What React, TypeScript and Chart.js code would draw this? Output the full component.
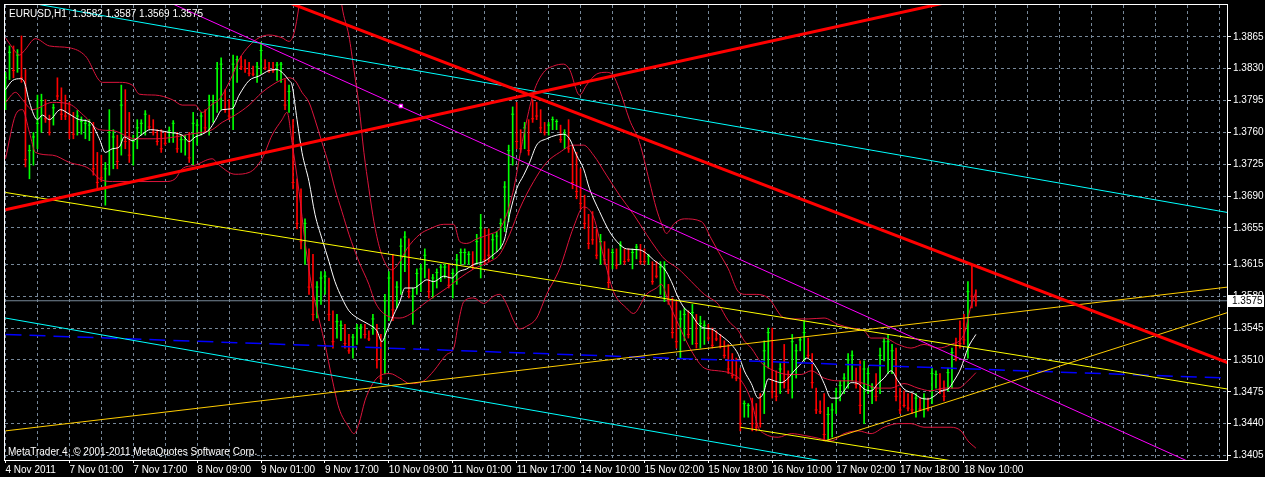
import { useEffect, useRef } from 'react'
import { Chart, registerables } from 'chart.js'

Chart.register(...registerables)

// EURUSD H1, 4 Nov - 18 Nov 2011, one entry per hourly bar
const opens = [
  1.3790, 1.3820, 1.3848, 1.3828, 1.3845, 1.3820, 1.3725, 1.3738, 1.3752, 1.3768,
  1.3795, 1.3775, 1.3770, 1.3815, 1.3800, 1.3795, 1.3785, 1.3775, 1.3760, 1.3762,
  1.3758, 1.3756, 1.3768, 1.3725, 1.3720, 1.3690, 1.3720, 1.3735, 1.3755, 1.3740,
  1.3795, 1.3770, 1.3730, 1.3748, 1.3760, 1.3765, 1.3777, 1.3770, 1.3760, 1.3755,
  1.3758, 1.3751, 1.3755, 1.3757, 1.3742, 1.3740, 1.3752, 1.3732, 1.3750, 1.3760,
  1.3778, 1.3765, 1.3780, 1.3790, 1.3795, 1.3805, 1.3792, 1.3770, 1.3820, 1.3842,
  1.3838, 1.3835, 1.3832, 1.3818, 1.3830, 1.3838, 1.3835, 1.3834, 1.3820, 1.3818,
  1.3815, 1.3785, 1.3770, 1.3705, 1.3670, 1.3625, 1.3625, 1.3600, 1.3560, 1.3580,
  1.3590, 1.3598, 1.3558, 1.3535, 1.3535, 1.3545, 1.3535, 1.3515, 1.3532, 1.3537,
  1.3546, 1.3540, 1.3540, 1.3547, 1.3520, 1.3500, 1.3565, 1.3600, 1.3570, 1.3590,
  1.3615, 1.3640, 1.3555, 1.3585, 1.3590, 1.3605, 1.3608, 1.3582, 1.3592, 1.3598,
  1.3602, 1.3612, 1.3582, 1.3598, 1.3618, 1.3618, 1.3618, 1.3626, 1.3618, 1.3610,
  1.3650, 1.3645, 1.3625, 1.3632, 1.3636, 1.3655, 1.3680, 1.3730, 1.3785, 1.3760,
  1.3745, 1.3768, 1.3793, 1.3790, 1.3782, 1.3768, 1.3760, 1.3765, 1.3765, 1.3766,
  1.3745, 1.3770, 1.3742, 1.3720, 1.3705, 1.3685, 1.3662, 1.3665, 1.3648, 1.3620,
  1.3638, 1.3625, 1.3612, 1.3628, 1.3618, 1.3630, 1.3630, 1.3614, 1.3624, 1.3634,
  1.3628, 1.3617, 1.3616, 1.3615, 1.3588, 1.3580, 1.3590, 1.3575, 1.3550, 1.3520,
  1.3535, 1.3560, 1.3532, 1.3556, 1.3528, 1.3530, 1.3546, 1.3540, 1.3540, 1.3535,
  1.3528, 1.3522, 1.3505, 1.3505, 1.3495, 1.3450, 1.3449, 1.3462, 1.3458, 1.3465,
  1.3455, 1.3510, 1.3540, 1.3495, 1.3476, 1.3510, 1.3495, 1.3475, 1.3495, 1.3522,
  1.3515, 1.3532, 1.3512, 1.3478, 1.3463, 1.3465, 1.3425, 1.3430, 1.3455, 1.3468,
  1.3476, 1.3485, 1.3492, 1.3498, 1.3500, 1.3450, 1.3476, 1.3464, 1.3492, 1.3478,
  1.3512, 1.3500, 1.3500, 1.3518, 1.3476, 1.3472, 1.3470, 1.3468, 1.3450, 1.3465,
  1.3450, 1.3465, 1.3465, 1.3482, 1.3492, 1.3484, 1.3478, 1.3485, 1.3530, 1.3550,
  1.3555, 1.3520, 1.3605, 1.3582,
]
const highs = [
  1.3826, 1.3855, 1.3855, 1.3851, 1.3866, 1.3829, 1.3746, 1.3760, 1.3801, 1.3802,
  1.3796, 1.3779, 1.3791, 1.3820, 1.3809, 1.3801, 1.3793, 1.3782, 1.3784, 1.3777,
  1.3774, 1.3774, 1.3771, 1.3738, 1.3735, 1.3727, 1.3785, 1.3763, 1.3757, 1.3812,
  1.3807, 1.3782, 1.3757, 1.3774, 1.3774, 1.3784, 1.3779, 1.3774, 1.3763, 1.3763,
  1.3760, 1.3766, 1.3773, 1.3760, 1.3757, 1.3757, 1.3760, 1.3782, 1.3774, 1.3782,
  1.3785, 1.3801, 1.3801, 1.3837, 1.3842, 1.3807, 1.3796, 1.3845, 1.3844, 1.3844,
  1.3840, 1.3837, 1.3833, 1.3837, 1.3859, 1.3840, 1.3837, 1.3837, 1.3837, 1.3837,
  1.3818, 1.3812, 1.3774, 1.3709, 1.3698, 1.3665, 1.3632, 1.3626, 1.3596, 1.3607,
  1.3607, 1.3600, 1.3564, 1.3560, 1.3553, 1.3549, 1.3538, 1.3538, 1.3549, 1.3549,
  1.3549, 1.3542, 1.3560, 1.3549, 1.3538, 1.3582, 1.3607, 1.3626, 1.3596, 1.3643,
  1.3651, 1.3643, 1.3589, 1.3610, 1.3615, 1.3632, 1.3610, 1.3604, 1.3610, 1.3615,
  1.3615, 1.3615, 1.3610, 1.3626, 1.3632, 1.3632, 1.3629, 1.3629, 1.3648, 1.3670,
  1.3654, 1.3654, 1.3648, 1.3651, 1.3665, 1.3706, 1.3746, 1.3788, 1.3793, 1.3763,
  1.3771, 1.3774, 1.3796, 1.3793, 1.3785, 1.3771, 1.3771, 1.3777, 1.3774, 1.3768,
  1.3763, 1.3774, 1.3746, 1.3738, 1.3720, 1.3691, 1.3670, 1.3673, 1.3654, 1.3648,
  1.3640, 1.3632, 1.3632, 1.3632, 1.3640, 1.3632, 1.3632, 1.3632, 1.3637, 1.3637,
  1.3632, 1.3626, 1.3618, 1.3618, 1.3618, 1.3618, 1.3593, 1.3578, 1.3574, 1.3564,
  1.3567, 1.3564, 1.3571, 1.3560, 1.3558, 1.3553, 1.3549, 1.3545, 1.3542, 1.3538,
  1.3531, 1.3527, 1.3517, 1.3512, 1.3501, 1.3465, 1.3462, 1.3468, 1.3462, 1.3473,
  1.3531, 1.3545, 1.3545, 1.3498, 1.3506, 1.3527, 1.3498, 1.3538, 1.3527, 1.3534,
  1.3553, 1.3534, 1.3517, 1.3479, 1.3465, 1.3473, 1.3458, 1.3462, 1.3479, 1.3487,
  1.3495, 1.3517, 1.3520, 1.3501, 1.3509, 1.3509, 1.3501, 1.3484, 1.3495, 1.3523,
  1.3534, 1.3538, 1.3527, 1.3523, 1.3479, 1.3476, 1.3473, 1.3473, 1.3473, 1.3468,
  1.3473, 1.3468, 1.3501, 1.3498, 1.3495, 1.3487, 1.3501, 1.3523, 1.3534, 1.3553,
  1.3560, 1.3596, 1.3615, 1.3587,
]
const lows = [
  1.3785, 1.3818, 1.3820, 1.3826, 1.3815, 1.3722, 1.3709, 1.3724, 1.3742, 1.3760,
  1.3771, 1.3757, 1.3768, 1.3796, 1.3774, 1.3774, 1.3753, 1.3753, 1.3757, 1.3758,
  1.3753, 1.3751, 1.3713, 1.3698, 1.3706, 1.3680, 1.3713, 1.3720, 1.3720, 1.3735,
  1.3742, 1.3727, 1.3724, 1.3742, 1.3757, 1.3757, 1.3763, 1.3757, 1.3746, 1.3738,
  1.3746, 1.3749, 1.3749, 1.3738, 1.3738, 1.3735, 1.3727, 1.3724, 1.3746, 1.3757,
  1.3760, 1.3757, 1.3771, 1.3782, 1.3785, 1.3782, 1.3774, 1.3763, 1.3815, 1.3829,
  1.3826, 1.3822, 1.3822, 1.3815, 1.3824, 1.3829, 1.3826, 1.3826, 1.3817, 1.3815,
  1.3785, 1.3782, 1.3698, 1.3654, 1.3632, 1.3615, 1.3582, 1.3553, 1.3556, 1.3571,
  1.3582, 1.3553, 1.3523, 1.3534, 1.3531, 1.3523, 1.3517, 1.3512, 1.3527, 1.3534,
  1.3534, 1.3531, 1.3538, 1.3501, 1.3484, 1.3495, 1.3553, 1.3553, 1.3567, 1.3582,
  1.3607, 1.3578, 1.3549, 1.3582, 1.3585, 1.3600, 1.3578, 1.3578, 1.3589, 1.3596,
  1.3600, 1.3589, 1.3578, 1.3593, 1.3615, 1.3615, 1.3615, 1.3610, 1.3615, 1.3600,
  1.3615, 1.3618, 1.3621, 1.3629, 1.3632, 1.3651, 1.3662, 1.3724, 1.3742, 1.3738,
  1.3742, 1.3735, 1.3771, 1.3774, 1.3760, 1.3757, 1.3757, 1.3763, 1.3763, 1.3749,
  1.3742, 1.3738, 1.3698, 1.3687, 1.3676, 1.3654, 1.3632, 1.3637, 1.3621, 1.3615,
  1.3615, 1.3589, 1.3610, 1.3610, 1.3615, 1.3615, 1.3618, 1.3610, 1.3621, 1.3615,
  1.3615, 1.3615, 1.3593, 1.3600, 1.3582, 1.3574, 1.3571, 1.3534, 1.3523, 1.3512,
  1.3531, 1.3534, 1.3527, 1.3523, 1.3523, 1.3527, 1.3531, 1.3523, 1.3531, 1.3523,
  1.3512, 1.3495, 1.3490, 1.3487, 1.3432, 1.3447, 1.3447, 1.3432, 1.3432, 1.3436,
  1.3451, 1.3501, 1.3468, 1.3465, 1.3473, 1.3479, 1.3473, 1.3468, 1.3490, 1.3520,
  1.3509, 1.3512, 1.3479, 1.3451, 1.3451, 1.3421, 1.3421, 1.3425, 1.3451, 1.3465,
  1.3473, 1.3479, 1.3487, 1.3479, 1.3451, 1.3440, 1.3473, 1.3462, 1.3465, 1.3473,
  1.3509, 1.3495, 1.3495, 1.3465, 1.3451, 1.3458, 1.3454, 1.3451, 1.3447, 1.3454,
  1.3447, 1.3454, 1.3462, 1.3479, 1.3473, 1.3465, 1.3476, 1.3479, 1.3509, 1.3523,
  1.3527, 1.3512, 1.3567, 1.3569,
]
const closes = [
  1.3820, 1.3848, 1.3828, 1.3845, 1.3820, 1.3730, 1.3740, 1.3755, 1.3770, 1.3795,
  1.3775, 1.3760, 1.3787, 1.3800, 1.3780, 1.3778, 1.3760, 1.3758, 1.3778, 1.3772,
  1.3770, 1.3768, 1.3720, 1.3705, 1.3710, 1.3720, 1.3760, 1.3755, 1.3728, 1.3790,
  1.3750, 1.3735, 1.3750, 1.3765, 1.3770, 1.3780, 1.3766, 1.3760, 1.3750, 1.3742,
  1.3748, 1.3762, 1.3770, 1.3742, 1.3752, 1.3752, 1.3732, 1.3770, 1.3768, 1.3778,
  1.3765, 1.3795, 1.3795, 1.3830, 1.3835, 1.3785, 1.3778, 1.3835, 1.3840, 1.3832,
  1.3830, 1.3825, 1.3824, 1.3832, 1.3850, 1.3831, 1.3828, 1.3828, 1.3834, 1.3835,
  1.3790, 1.3805, 1.3705, 1.3660, 1.3640, 1.3660, 1.3590, 1.3560, 1.3590, 1.3600,
  1.3602, 1.3560, 1.3530, 1.3552, 1.3548, 1.3528, 1.3520, 1.3535, 1.3545, 1.3546,
  1.3538, 1.3533, 1.3555, 1.3510, 1.3490, 1.3575, 1.3600, 1.3565, 1.3590, 1.3635,
  1.3645, 1.3585, 1.3580, 1.3605, 1.3610, 1.3625, 1.3585, 1.3600, 1.3606, 1.3612,
  1.3612, 1.3592, 1.3605, 1.3620, 1.3628, 1.3628, 1.3626, 1.3614, 1.3640, 1.3655,
  1.3620, 1.3625, 1.3642, 1.3646, 1.3660, 1.3700, 1.3740, 1.3780, 1.3750, 1.3742,
  1.3765, 1.3740, 1.3775, 1.3778, 1.3765, 1.3760, 1.3768, 1.3774, 1.3772, 1.3752,
  1.3758, 1.3742, 1.3705, 1.3695, 1.3682, 1.3660, 1.3638, 1.3642, 1.3625, 1.3640,
  1.3620, 1.3595, 1.3628, 1.3614, 1.3636, 1.3618, 1.3620, 1.3628, 1.3634, 1.3618,
  1.3618, 1.3624, 1.3596, 1.3602, 1.3612, 1.3610, 1.3575, 1.3540, 1.3530, 1.3555,
  1.3560, 1.3538, 1.3562, 1.3528, 1.3550, 1.3548, 1.3534, 1.3526, 1.3533, 1.3525,
  1.3515, 1.3500, 1.3493, 1.3490, 1.3440, 1.3462, 1.3460, 1.3440, 1.3436, 1.3440,
  1.3520, 1.3540, 1.3475, 1.3470, 1.3500, 1.3485, 1.3477, 1.3530, 1.3520, 1.3532,
  1.3540, 1.3515, 1.3485, 1.3455, 1.3453, 1.3428, 1.3450, 1.3455, 1.3475, 1.3482,
  1.3490, 1.3510, 1.3515, 1.3483, 1.3460, 1.3500, 1.3495, 1.3480, 1.3470, 1.3515,
  1.3530, 1.3530, 1.3520, 1.3470, 1.3455, 1.3460, 1.3457, 1.3455, 1.3468, 1.3456,
  1.3468, 1.3456, 1.3495, 1.3494, 1.3477, 1.3470, 1.3496, 1.3518, 1.3512, 1.3528,
  1.3532, 1.3585, 1.3580, 1.3575,
]

// moving average (white) and Bollinger lines (crimson): [bar index, price]
const maLine = [
  [0, 1.3807], [1.75, 1.3817], [3.75, 1.3819], [4.75, 1.3815], [6, 1.3793], [8, 1.3774],
  [9.25, 1.3779], [11, 1.3774], [13.75, 1.3785], [16, 1.3780], [18.5, 1.3774], [21.25, 1.3771],
  [23.5, 1.3753], [25, 1.3738], [26.75, 1.3742], [28.5, 1.3744], [29.75, 1.3755], [31.75, 1.3751],
  [34.25, 1.3758], [36.25, 1.3763], [38.5, 1.3762], [41, 1.3760], [44.25, 1.3757], [46, 1.3750],
  [47.5, 1.3755], [49.25, 1.3758], [51, 1.3763], [52.5, 1.3773], [54.25, 1.3785], [56.75, 1.3786],
  [58.5, 1.3801], [61, 1.3817], [63.5, 1.3822], [66, 1.3828], [68, 1.3829], [69.25, 1.3826],
  [71, 1.3817], [71.75, 1.3812], [73, 1.3774], [74.25, 1.3738], [76, 1.3706], [77.5, 1.3670],
  [79.25, 1.3643], [81, 1.3618], [82.5, 1.3596], [84.25, 1.3578], [86, 1.3564], [88.5, 1.3555],
  [91, 1.3549], [93, 1.3542], [94.25, 1.3530], [95.5, 1.3542], [97.25, 1.3560], [98.75, 1.3574],
  [100, 1.3589], [102.25, 1.3589], [103.75, 1.3593], [105.5, 1.3598], [107.25, 1.3596], [109.75, 1.3602],
  [111.75, 1.3600], [113.5, 1.3607], [115.5, 1.3610], [117.25, 1.3615], [119.75, 1.3618], [122.25, 1.3626],
  [123.75, 1.3632], [125, 1.3643], [126.25, 1.3670], [128, 1.3698], [129.75, 1.3713], [131.25, 1.3727],
  [133, 1.3746], [135.5, 1.3753], [138, 1.3757], [139.75, 1.3758], [141.25, 1.3753], [143, 1.3735],
  [144.75, 1.3720], [146.25, 1.3698], [148.75, 1.3673], [151.25, 1.3651], [153.75, 1.3637], [155.5, 1.3632],
  [158.75, 1.3631], [160.5, 1.3627], [162.25, 1.3620], [165, 1.3610], [166.75, 1.3596], [168.5, 1.3578],
  [170, 1.3567], [171.75, 1.3560], [173.5, 1.3549], [175, 1.3545], [176.75, 1.3544], [178.5, 1.3539],
  [180, 1.3534], [181.75, 1.3527], [183.5, 1.3516], [185, 1.3498], [186.75, 1.3484], [188.5, 1.3468],
  [189.75, 1.3473], [191, 1.3489], [192.5, 1.3487], [194.25, 1.3485], [196, 1.3490], [197.5, 1.3498],
  [199.25, 1.3506], [200.5, 1.3512], [201.75, 1.3509], [203.5, 1.3498], [205, 1.3484], [206.75, 1.3468],
  [208.5, 1.3468], [210, 1.3476], [211.75, 1.3485], [213.5, 1.3484], [215, 1.3478], [216.75, 1.3476],
  [218.5, 1.3484], [220, 1.3490], [221.75, 1.3498], [223.5, 1.3487], [225, 1.3478], [227.5, 1.3473],
  [229.25, 1.3468], [231, 1.3467], [232.5, 1.3470], [234.25, 1.3476], [236, 1.3478], [237.5, 1.3487],
  [239.25, 1.3501], [241, 1.3523], [243, 1.3538],
]
const bandUpper = [
  [0, 1.3864], [1.75, 1.3853], [3.5, 1.3845], [4.75, 1.3850], [7.5, 1.3863], [11, 1.3855],
  [16, 1.3853], [20, 1.3844], [24.25, 1.3815], [28.5, 1.3815], [31.75, 1.3812], [33.5, 1.3802],
  [37.5, 1.3801], [41.75, 1.3796], [44.25, 1.3790], [47.5, 1.3790], [49.25, 1.3782], [51.75, 1.3791],
  [53.5, 1.3796], [56.75, 1.3822], [58.5, 1.3840], [61, 1.3855], [63.5, 1.3864], [66, 1.3867],
  [69.25, 1.3864], [71, 1.3860], [72.25, 1.3869], [73.5, 1.3899], [75.5, 1.3968], [79.25, 1.4022],
  [82.5, 1.3968], [84.25, 1.3899], [86, 1.3866], [87.25, 1.3829], [88.5, 1.3790], [89.75, 1.3738],
  [91, 1.3698], [92.25, 1.3662], [93.75, 1.3632], [95.5, 1.3613], [96.75, 1.3609], [98.75, 1.3618],
  [100.5, 1.3632], [103.75, 1.3648], [106.25, 1.3654], [109.75, 1.3659], [112.25, 1.3659], [113.75, 1.3640],
  [115.5, 1.3638], [118, 1.3643], [121.25, 1.3648], [123.75, 1.3654], [125.5, 1.3670], [127.25, 1.3698],
  [129.75, 1.3757], [132.25, 1.3804], [134.75, 1.3826], [137.25, 1.3833], [139.75, 1.3835], [141.25, 1.3829],
  [143.75, 1.3801], [145.5, 1.3812], [148, 1.3824], [150.5, 1.3826], [152.25, 1.3822], [153.75, 1.3807],
  [156.25, 1.3774], [158.75, 1.3749], [161.25, 1.3706], [163, 1.3676], [164.25, 1.3660], [165.5, 1.3649],
  [167.5, 1.3660], [170, 1.3665], [174.25, 1.3662], [176.75, 1.3643], [178.5, 1.3629], [181, 1.3610],
  [183.5, 1.3585], [185.5, 1.3582], [188, 1.3582], [191, 1.3578], [195, 1.3556], [197.5, 1.3555],
  [201, 1.3555], [205, 1.3556], [208.5, 1.3549], [211.75, 1.3545], [215, 1.3542], [216.75, 1.3534],
  [220, 1.3534], [223.5, 1.3527], [226.75, 1.3523], [230, 1.3527], [233.5, 1.3523], [236.75, 1.3527],
  [240, 1.3538], [241.75, 1.3569], [243, 1.3585],
]
const bandMiddle = [
  [0, 1.3793], [2.5, 1.3804], [4.25, 1.3796], [6.75, 1.3785], [11.75, 1.3793], [16, 1.3791],
  [20, 1.3777], [23.5, 1.3763], [26.75, 1.3762], [32.5, 1.3753], [37.5, 1.3753], [42.5, 1.3755],
  [46, 1.3758], [49.25, 1.3760], [51.75, 1.3763], [54.25, 1.3771], [57.5, 1.3779], [61, 1.3790],
  [64.25, 1.3804], [66.75, 1.3812], [69.25, 1.3818], [71, 1.3820], [72.5, 1.3817], [74.25, 1.3804],
  [76, 1.3793], [77.5, 1.3774], [79.25, 1.3749], [81, 1.3724], [82.5, 1.3698], [84.25, 1.3673],
  [86, 1.3648], [88.5, 1.3618], [91, 1.3593], [92.5, 1.3574], [95, 1.3560], [98.75, 1.3556],
  [101.25, 1.3560], [105.5, 1.3574], [110.5, 1.3589], [113.75, 1.3600], [117.25, 1.3610], [121.25, 1.3618],
  [123.75, 1.3626], [126.25, 1.3648], [128.75, 1.3676], [132.25, 1.3706], [135.5, 1.3727], [138.75, 1.3738],
  [142.25, 1.3746], [144.75, 1.3746], [147.25, 1.3735], [150.5, 1.3713], [153.75, 1.3691], [157.25, 1.3670],
  [160.5, 1.3648], [163, 1.3632], [165, 1.3621], [168.5, 1.3610], [171.75, 1.3596], [175, 1.3582],
  [178.5, 1.3571], [181, 1.3553], [183.5, 1.3542], [185, 1.3531], [186.75, 1.3523], [189.25, 1.3507],
  [192.5, 1.3498], [196, 1.3494], [199.25, 1.3494], [201.75, 1.3498], [205, 1.3490], [208.5, 1.3487],
  [211.75, 1.3487], [215, 1.3484], [218.5, 1.3479], [221.75, 1.3479], [225, 1.3484], [228.5, 1.3479],
  [231.75, 1.3476], [235, 1.3479], [238.5, 1.3479], [241, 1.3487], [243, 1.3496],
]
const bandLower = [
  [0, 1.3731], [2.5, 1.3779], [4.25, 1.3785], [6, 1.3760], [7.5, 1.3738], [11.75, 1.3735],
  [16, 1.3727], [21, 1.3720], [23.5, 1.3709], [26.75, 1.3706], [32.5, 1.3706], [40, 1.3706],
  [42.5, 1.3709], [44.25, 1.3720], [47.5, 1.3724], [51.75, 1.3731], [53.5, 1.3724], [57.5, 1.3714],
  [61, 1.3716], [64.25, 1.3731], [66.75, 1.3757], [69.25, 1.3774], [70.5, 1.3782], [71.75, 1.3749],
  [73.5, 1.3695], [75, 1.3640], [76.25, 1.3602], [77.5, 1.3574], [80, 1.3527], [81.75, 1.3490],
  [83.5, 1.3457], [86, 1.3436], [87.25, 1.3429], [88.5, 1.3440], [90, 1.3465], [91, 1.3476],
  [93, 1.3490], [96.25, 1.3495], [98.75, 1.3490], [101.25, 1.3484], [104.75, 1.3487], [107.25, 1.3498],
  [110.5, 1.3516], [112.25, 1.3523], [113.5, 1.3553], [114.75, 1.3574], [117.25, 1.3578], [119.75, 1.3572],
  [122.25, 1.3580], [123.75, 1.3582], [125.5, 1.3571], [127.25, 1.3553], [128.75, 1.3544], [130.5, 1.3547],
  [133, 1.3556], [135.5, 1.3582], [138.75, 1.3610], [142.25, 1.3656], [144.75, 1.3678], [147.25, 1.3667],
  [149.75, 1.3624], [152.25, 1.3585], [155.5, 1.3567], [157.25, 1.3561], [160.5, 1.3582], [163, 1.3589],
  [164.25, 1.3593], [166, 1.3574], [168.5, 1.3549], [171.75, 1.3520], [175, 1.3501], [178.5, 1.3498],
  [181.75, 1.3495], [184.25, 1.3487], [186.75, 1.3465], [188.5, 1.3436], [190, 1.3429], [193.5, 1.3425],
  [196.75, 1.3429], [200, 1.3427], [203.5, 1.3424], [206.75, 1.3421], [210, 1.3429], [213.5, 1.3432],
  [216.75, 1.3429], [220, 1.3436], [223.5, 1.3440], [226.75, 1.3440], [230, 1.3436], [233.5, 1.3436],
  [236.75, 1.3436], [239.25, 1.3432], [241, 1.3421], [243, 1.3413],
]

// hand-drawn objects: [bar index, price] end points
const redFallLine = [[60, 1.3921], [306, 1.3507]]
const redRiseLine = [[0, 1.3675], [240, 1.3907]]
const cyanUpperLine = [[0, 1.3907], [306, 1.3672]]
const cyanLowerLine = [[0, 1.3556], [306, 1.3321]]
const magentaLine = [[0, 1.3984], [306, 1.3379]]
const magentaAnchor = [[99, 1.3789]]
const yellowFallLine = [[0, 1.3694], [306, 1.3478]]
const yellowLowLine = [[184, 1.3436], [250, 1.3390]]
const goldRiseLine = [[0, 1.3432], [306, 1.3590]]
const goldRayLine = [[205.25, 1.3421], [306, 1.3562]]
const blueDashLine = [[0, 1.3538], [306, 1.3490]]

const priceTicks = [
  1.3405, 1.3440, 1.3475, 1.3510, 1.3545, 1.3580, 1.3615,
  1.3655, 1.3690, 1.3725, 1.3760, 1.3795, 1.3830, 1.3865,
]
const timeLabels = [
  '4 Nov 2011', '7 Nov 01:00', '7 Nov 17:00', '8 Nov 09:00', '9 Nov 01:00', '9 Nov 17:00',
  '10 Nov 09:00', '11 Nov 01:00', '11 Nov 17:00', '14 Nov 10:00', '15 Nov 02:00', '15 Nov 18:00',
  '16 Nov 10:00', '17 Nov 02:00', '17 Nov 18:00', '18 Nov 10:00',
]
const BARS_PER_LABEL = 16
const BARS_PER_GRID = 8
const SLOTS = 306

const SYMBOL = 'EURUSD,H1'
const COPYRIGHT = 'MetaTrader 4, \u00a9 2001-2011 MetaQuotes Software Corp.'

const FONT_FAMILY = '"Liberation Sans", Arial, sans-serif'
const GRID = '#778899'
const UP = '#00ff00'
const DOWN = '#ff0000'
const BAND = '#dc143c'

const pts = (pairs: number[][]) => pairs.map(([x, y]) => ({ x, y }))

const lineSet = (data: number[][], color: string, width: number, order: number, extra: object = {}) => ({
  type: 'line',
  data: pts(data),
  borderColor: color,
  backgroundColor: color,
  borderWidth: width,
  pointRadius: 0,
  fill: false,
  tension: 0,
  order,
  ...extra,
})

const labelAt = (v: number) => {
  if (v % BARS_PER_LABEL !== 0) return ''
  return timeLabels[v / BARS_PER_LABEL] || ''
}

const overlay = {
  id: 'mtOverlay',
  afterDraw(chart: any) {
    const { ctx, chartArea: a, scales } = chart
    const last = closes.length - 1
    ctx.save()
    ctx.strokeStyle = '#ffffff'
    ctx.lineWidth = 1
    ctx.strokeRect(a.left - 0.5, a.top - 0.5, a.right - a.left + 1, a.bottom - a.top + 1)

    ctx.font = `10px ${FONT_FAMILY}`
    ctx.fillStyle = '#ffffff'
    ctx.textBaseline = 'alphabetic'
    const head = `${SYMBOL}  ${opens[last].toFixed(4)} ${highs[last].toFixed(4)} ${lows[last].toFixed(4)} ${closes[last].toFixed(4)}`
    ctx.fillText(head, a.left + 4, a.top + 12)
    ctx.fillText(COPYRIGHT, a.left + 3, a.bottom - 5)

    // bid tag on the price axis
    const y = Math.round(scales.y.getPixelForValue(closes[last]))
    ctx.fillStyle = '#ffffff'
    ctx.fillRect(a.right + 1, y - 6, 36, 12)
    ctx.fillStyle = '#000000'
    ctx.textBaseline = 'middle'
    ctx.fillText(closes[last].toFixed(4), a.right + 5, y + 0.5)
    ctx.restore()
  },
}

function PriceChart() {
  const canvasRef = useRef<HTMLCanvasElement>(null)
  const chartRef = useRef<Chart | null>(null)

  useEffect(() => {
    if (!canvasRef.current) return
    document.body.style.margin = '0'
    document.body.style.background = '#000'

    if (chartRef.current) chartRef.current.destroy()

    const last = closes.length - 1
    const barColors = closes.map((c, i) => (c >= opens[i] ? UP : DOWN))

    const chart = new Chart(canvasRef.current, {
      type: 'line',
      data: {
        datasets: [
          lineSet([[0, closes[last]], [SLOTS, closes[last]]], GRID, 1, 20),
          {
            type: 'bar',
            data: highs.map((h, i) => ({ x: i, y: [lows[i], h] })),
            backgroundColor: barColors,
            borderWidth: 0,
            barThickness: 1,
            grouped: false,
            order: 15,
          },
          {
            type: 'scatter',
            data: closes.map((c, i) => ({ x: i, y: c })),
            pointStyle: 'line',
            pointRadius: 1.5,
            borderWidth: 1,
            borderColor: barColors,
            showLine: false,
            order: 14,
          },
          lineSet(bandUpper, BAND, 1, 12, { cubicInterpolationMode: 'monotone' }),
          lineSet(bandMiddle, BAND, 1, 12, { cubicInterpolationMode: 'monotone' }),
          lineSet(bandLower, BAND, 1, 12, { cubicInterpolationMode: 'monotone' }),
          lineSet(maLine, '#ffffff', 1, 11, { cubicInterpolationMode: 'monotone' }),
          lineSet(blueDashLine, '#0000ff', 1.5, 8, { borderDash: [16, 8] }),
          lineSet(cyanUpperLine, '#00ffff', 1, 7),
          lineSet(cyanLowerLine, '#00ffff', 1, 7),
          lineSet(yellowFallLine, '#ffff00', 1, 6),
          lineSet(yellowLowLine, '#ffff00', 1, 6),
          lineSet(goldRiseLine, '#ffcc00', 1, 6),
          lineSet(goldRayLine, '#ffcc00', 1, 6),
          lineSet(magentaLine, '#ff00ff', 1, 5),
          lineSet(redFallLine, '#ff0000', 3, 4),
          lineSet(redRiseLine, '#ff0000', 3, 4),
          {
            type: 'scatter',
            data: pts(magentaAnchor),
            pointStyle: 'rect',
            pointRadius: 2.5,
            backgroundColor: '#ffffff',
            borderColor: '#ff00ff',
            borderWidth: 1,
            order: 1,
          },
        ],
      },
      options: {
        animation: false,
        responsive: false,
        devicePixelRatio: 1,
        events: [],
        layout: { padding: { left: 3, top: 2, right: 0, bottom: 0 } },
        plugins: {
          legend: { display: false },
          tooltip: { enabled: false },
          title: { display: false },
        },
        scales: {
          x: {
            type: 'linear',
            offset: false,
            min: -0.125,
            max: SLOTS - 0.125,
            afterBuildTicks: (s: any) => {
              const t = []
              for (let v = 0; v < SLOTS; v += BARS_PER_GRID) t.push({ value: v })
              s.ticks = t
            },
            afterFit: (s: any) => {
              s.height = 17
              s.paddingLeft = 0
              s.paddingRight = 0
            },
            ticks: {
              color: '#ffffff',
              font: { family: FONT_FAMILY, size: 10 },
              autoSkip: false,
              maxRotation: 0,
              minRotation: 0,
              align: 'start',
              padding: 1,
              callback: (v: any) => labelAt(Number(v)),
            },
            grid: {
              offset: false,
              color: GRID,
              lineWidth: 1,
              tickLength: 3,
              tickBorderDash: [],
              tickColor: (c: any) => (c.tick && labelAt(c.tick.value) ? '#ffffff' : 'rgba(0,0,0,0)'),
            },
            border: { display: false, dash: [3, 3] },
          },
          y: {
            type: 'linear',
            position: 'right',
            min: 1.34,
            max: 1.39,
            afterBuildTicks: (s: any) => {
              s.ticks = priceTicks.map((v) => ({ value: v }))
            },
            afterFit: (s: any) => {
              s.width = 38
              s.paddingTop = 0
              s.paddingBottom = 0
            },
            ticks: {
              color: '#ffffff',
              font: { family: FONT_FAMILY, size: 10 },
              padding: 2,
              callback: (v: any) => Number(v).toFixed(4),
            },
            grid: {
              color: GRID,
              lineWidth: 1,
              tickLength: 4,
              tickBorderDash: [],
              tickColor: '#ffffff',
            },
            border: { display: false, dash: [3, 3] },
          },
        },
      },
      plugins: [overlay],
    } as any)

    chartRef.current = chart

    return () => {
      if (chartRef.current) {
        chartRef.current.destroy()
        chartRef.current = null
      }
    }
  }, [])

  return (
    <div style={{ position: 'fixed', left: 0, top: 0, width: 1265, height: 477, background: '#000' }}>
      <canvas ref={canvasRef} width={1265} height={477} style={{ display: 'block' }}></canvas>
    </div>
  )
}

export default function App() {
  return <PriceChart />
}
